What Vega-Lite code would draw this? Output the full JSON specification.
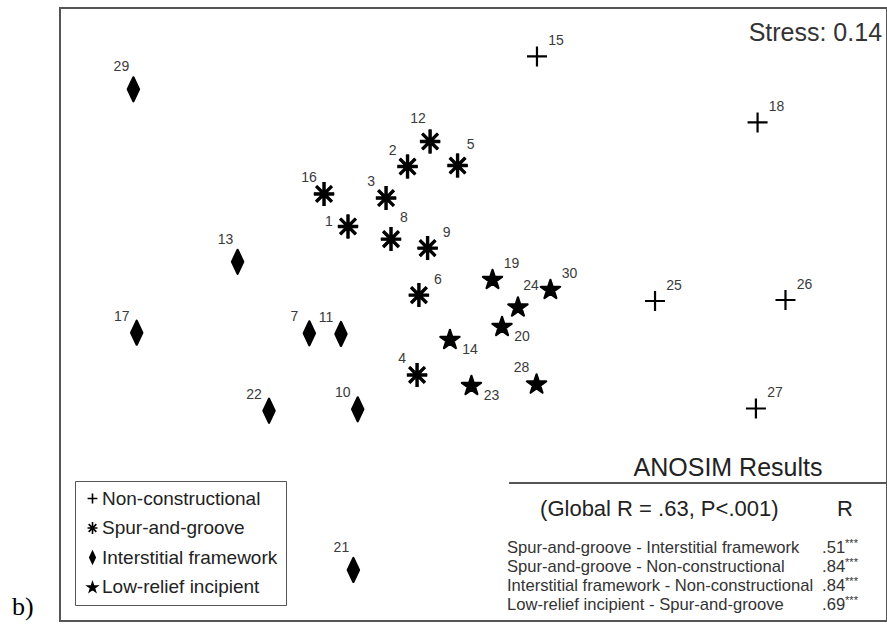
{
  "$schema": "https://vega.github.io/schema/vega-lite/v6.json",
  "width": 827,
  "height": 613,
  "autosize": {"type": "none"},
  "padding": {"left": 60, "top": 8, "right": 0, "bottom": 5},
  "background": "white",
  "datasets": {
    "sites": [
      {"id": "15", "group": "Non-constructional", "x": 0.307, "y": 1.263, "pos": "ur"},
      {"id": "18", "group": "Non-constructional", "x": 1.374, "y": 0.940, "pos": "ur"},
      {"id": "25", "group": "Non-constructional", "x": 0.878, "y": 0.066, "pos": "ur"},
      {"id": "26", "group": "Non-constructional", "x": 1.509, "y": 0.071, "pos": "ur"},
      {"id": "27", "group": "Non-constructional", "x": 1.366, "y": -0.460, "pos": "ur"},
      {"id": "12", "group": "Spur-and-groove", "x": -0.210, "y": 0.847, "pos": "nw"},
      {"id": "2", "group": "Spur-and-groove", "x": -0.319, "y": 0.724, "pos": "ul"},
      {"id": "5", "group": "Spur-and-groove", "x": -0.077, "y": 0.729, "pos": "ne"},
      {"id": "16", "group": "Spur-and-groove", "x": -0.723, "y": 0.590, "pos": "ul"},
      {"id": "3", "group": "Spur-and-groove", "x": -0.423, "y": 0.570, "pos": "ul"},
      {"id": "1", "group": "Spur-and-groove", "x": -0.607, "y": 0.431, "pos": "w"},
      {"id": "8", "group": "Spur-and-groove", "x": -0.399, "y": 0.369, "pos": "ne"},
      {"id": "9", "group": "Spur-and-groove", "x": -0.222, "y": 0.325, "pos": "ur"},
      {"id": "6", "group": "Spur-and-groove", "x": -0.264, "y": 0.095, "pos": "ur"},
      {"id": "4", "group": "Spur-and-groove", "x": -0.273, "y": -0.296, "pos": "ul"},
      {"id": "29", "group": "Interstitial framework", "x": -1.645, "y": 1.102, "pos": "nw"},
      {"id": "13", "group": "Interstitial framework", "x": -1.141, "y": 0.258, "pos": "nw"},
      {"id": "17", "group": "Interstitial framework", "x": -1.629, "y": -0.089, "pos": "ul"},
      {"id": "7", "group": "Interstitial framework", "x": -0.794, "y": -0.092, "pos": "ul"},
      {"id": "11", "group": "Interstitial framework", "x": -0.641, "y": -0.095, "pos": "ul"},
      {"id": "22", "group": "Interstitial framework", "x": -0.989, "y": -0.471, "pos": "ul"},
      {"id": "10", "group": "Interstitial framework", "x": -0.560, "y": -0.464, "pos": "ul"},
      {"id": "21", "group": "Interstitial framework", "x": -0.581, "y": -1.250, "pos": "nw"},
      {"id": "19", "group": "Low-relief incipient", "x": 0.092, "y": 0.174, "pos": "ur"},
      {"id": "30", "group": "Low-relief incipient", "x": 0.372, "y": 0.125, "pos": "ur"},
      {"id": "24", "group": "Low-relief incipient", "x": 0.215, "y": 0.039, "pos": "ne"},
      {"id": "20", "group": "Low-relief incipient", "x": 0.138, "y": -0.056, "pos": "lr"},
      {"id": "14", "group": "Low-relief incipient", "x": -0.114, "y": -0.120, "pos": "lr"},
      {"id": "23", "group": "Low-relief incipient", "x": -0.010, "y": -0.345, "pos": "lr"},
      {"id": "28", "group": "Low-relief incipient", "x": 0.305, "y": -0.338, "pos": "ul"}
    ],
    "anosim": [
      {"row": 1, "pair": "Spur-and-groove - Interstitial framework", "r": ".51", "sig": "***"},
      {"row": 2, "pair": "Spur-and-groove - Non-constructional", "r": ".84", "sig": "***"},
      {"row": 3, "pair": "Interstitial framework - Non-constructional", "r": ".84", "sig": "***"},
      {"row": 4, "pair": "Low-relief incipient - Spur-and-groove", "r": ".69", "sig": "***"}
    ]
  },
  "layer": [
    {
      "data": {"name": "sites"},
      "layer": [
        {
          "mark": {"type": "point", "filled": true, "strokeWidth": 2.2, "strokeJoin": "round", "opacity": 1, "size": 600},
          "encoding": {
            "x": {"field": "x", "type": "quantitative", "scale": {"domain": [-2, 2], "nice": false, "zero": false}, "axis": null},
            "y": {"field": "y", "type": "quantitative", "scale": {"domain": [-1.5, 1.5], "nice": false, "zero": false}, "axis": null},
            "fill": {
              "field": "group",
              "type": "nominal",
              "scale": {
                "domain": ["Non-constructional", "Spur-and-groove", "Interstitial framework", "Low-relief incipient"],
                "range": ["#000", "#000", "#000", "#000"]
              },
              "legend": {
                "orient": "none", "legendX": 15, "legendY": 473, "title": null, "direction": "vertical",
                "strokeColor": "#555", "padding": 8, "symbolSize": 144, "symbolStrokeWidth": 1.6, "symbolOpacity": 1,
                "labelFont": "Liberation Sans", "labelFontSize": 19, "labelColor": "#222", "labelOffset": 0,
                "labelLimit": 400, "labelExpr": "datum.label + '   '", "rowPadding": 9.5
              }
            },
            "stroke": {
              "field": "group",
              "type": "nominal",
              "scale": {
                "domain": ["Non-constructional", "Spur-and-groove", "Interstitial framework", "Low-relief incipient"],
                "range": ["#000", "#000", "#000", "#000"]
              },
              "legend": {
                "orient": "none", "legendX": 15, "legendY": 473, "title": null, "direction": "vertical",
                "strokeColor": "#555", "padding": 8, "symbolSize": 144, "symbolStrokeWidth": 1.6, "symbolOpacity": 1,
                "labelFont": "Liberation Sans", "labelFontSize": 19, "labelColor": "#222", "labelOffset": 0,
                "labelLimit": 400, "labelExpr": "datum.label + '   '", "rowPadding": 9.5
              }
            },
            "shape": {
              "field": "group",
              "type": "nominal",
              "scale": {
                "domain": ["Non-constructional", "Spur-and-groove", "Interstitial framework", "Low-relief incipient"],
                "range": [
                  "M-0.816,0H0.816M0,-0.816V0.816",
                  "M0,-0.98V0.98M-0.83,0H0.83M-0.64,-0.64L0.64,0.64M-0.64,0.64L0.64,-0.64",
                  "M0,-0.98L0.46,0L0,0.98L-0.46,0Z",
                  "M0,-0.747L0.186,-0.176L0.785,-0.176L0.3,0.177L0.486,0.748L0,0.395L-0.486,0.748L-0.3,0.177L-0.785,-0.176L-0.186,-0.176Z"
                ]
              },
              "legend": {
                "orient": "none", "legendX": 15, "legendY": 473, "title": null, "direction": "vertical",
                "strokeColor": "#555", "padding": 8, "symbolSize": 144, "symbolStrokeWidth": 1.6, "symbolOpacity": 1,
                "labelFont": "Liberation Sans", "labelFontSize": 19, "labelColor": "#222", "labelOffset": 0,
                "labelLimit": 400, "labelExpr": "datum.label + '   '", "rowPadding": 9.5
              }
            }
          }
        },
        {
          "transform": [{"filter": "datum.group === 'Spur-and-groove'"}],
          "mark": {
            "type": "point", "filled": false, "stroke": "#000", "strokeWidth": 3.4, "opacity": 1, "size": 600,
            "shape": "M0,-0.98V0.98M-0.83,0H0.83M-0.64,-0.64L0.64,0.64M-0.64,0.64L0.64,-0.64"
          },
          "encoding": {
            "x": {"field": "x", "type": "quantitative", "scale": {"domain": [-2, 2], "nice": false, "zero": false}, "axis": null},
            "y": {"field": "y", "type": "quantitative", "scale": {"domain": [-1.5, 1.5], "nice": false, "zero": false}, "axis": null}
          }
        },
        {
          "transform": [{"filter": "datum.pos === 'ul'"}],
          "mark": {"type": "text", "dx": -15, "dy": -16, "font": "Liberation Sans", "fontSize": 14, "fill": "#3a3a3a"},
          "encoding": {
            "x": {"field": "x", "type": "quantitative", "scale": {"domain": [-2, 2], "nice": false, "zero": false}, "axis": null},
            "y": {"field": "y", "type": "quantitative", "scale": {"domain": [-1.5, 1.5], "nice": false, "zero": false}, "axis": null},
            "text": {"field": "id"}
          }
        },
        {
          "transform": [{"filter": "datum.pos === 'nw'"}],
          "mark": {"type": "text", "dx": -12, "dy": -22, "font": "Liberation Sans", "fontSize": 14, "fill": "#3a3a3a"},
          "encoding": {
            "x": {"field": "x", "type": "quantitative", "scale": {"domain": [-2, 2], "nice": false, "zero": false}, "axis": null},
            "y": {"field": "y", "type": "quantitative", "scale": {"domain": [-1.5, 1.5], "nice": false, "zero": false}, "axis": null},
            "text": {"field": "id"}
          }
        },
        {
          "transform": [{"filter": "datum.pos === 'ur'"}],
          "mark": {"type": "text", "dx": 19, "dy": -15, "font": "Liberation Sans", "fontSize": 14, "fill": "#3a3a3a"},
          "encoding": {
            "x": {"field": "x", "type": "quantitative", "scale": {"domain": [-2, 2], "nice": false, "zero": false}, "axis": null},
            "y": {"field": "y", "type": "quantitative", "scale": {"domain": [-1.5, 1.5], "nice": false, "zero": false}, "axis": null},
            "text": {"field": "id"}
          }
        },
        {
          "transform": [{"filter": "datum.pos === 'ne'"}],
          "mark": {"type": "text", "dx": 13, "dy": -21, "font": "Liberation Sans", "fontSize": 14, "fill": "#3a3a3a"},
          "encoding": {
            "x": {"field": "x", "type": "quantitative", "scale": {"domain": [-2, 2], "nice": false, "zero": false}, "axis": null},
            "y": {"field": "y", "type": "quantitative", "scale": {"domain": [-1.5, 1.5], "nice": false, "zero": false}, "axis": null},
            "text": {"field": "id"}
          }
        },
        {
          "transform": [{"filter": "datum.pos === 'lr'"}],
          "mark": {"type": "text", "dx": 20, "dy": 11, "font": "Liberation Sans", "fontSize": 14, "fill": "#3a3a3a"},
          "encoding": {
            "x": {"field": "x", "type": "quantitative", "scale": {"domain": [-2, 2], "nice": false, "zero": false}, "axis": null},
            "y": {"field": "y", "type": "quantitative", "scale": {"domain": [-1.5, 1.5], "nice": false, "zero": false}, "axis": null},
            "text": {"field": "id"}
          }
        },
        {
          "transform": [{"filter": "datum.pos === 'w'"}],
          "mark": {"type": "text", "dx": -19, "dy": -4, "font": "Liberation Sans", "fontSize": 14, "fill": "#3a3a3a"},
          "encoding": {
            "x": {"field": "x", "type": "quantitative", "scale": {"domain": [-2, 2], "nice": false, "zero": false}, "axis": null},
            "y": {"field": "y", "type": "quantitative", "scale": {"domain": [-1.5, 1.5], "nice": false, "zero": false}, "axis": null},
            "text": {"field": "id"}
          }
        },
        {
          "data": {"values": [{"label": "Stress: 0.14"}]},
          "mark": {"type": "text", "align": "right", "baseline": "middle", "font": "Liberation Sans", "fontSize": 25, "fill": "#333"},
          "encoding": {
            "x": {"datum": 1.976, "type": "quantitative", "scale": {"domain": [-2, 2], "nice": false, "zero": false}, "axis": null},
            "y": {"datum": 1.378, "type": "quantitative", "scale": {"domain": [-1.5, 1.5], "nice": false, "zero": false}, "axis": null},
            "text": {"field": "label"}
          }
        },
        {
          "data": {"values": [{"label": "b)"}]},
          "mark": {"type": "text", "align": "left", "baseline": "alphabetic", "font": "Liberation Serif", "fontSize": 26, "fill": "#000"},
          "encoding": {
            "x": {"datum": -2.232, "type": "quantitative", "scale": {"domain": [-2, 2], "nice": false, "zero": false}, "axis": null},
            "y": {"datum": -1.472, "type": "quantitative", "scale": {"domain": [-1.5, 1.5], "nice": false, "zero": false}, "axis": null},
            "text": {"field": "label"}
          }
        },
        {
          "data": {"values": [{"label": "ANOSIM Results"}]},
          "mark": {"type": "text", "align": "center", "baseline": "middle", "font": "Liberation Sans", "fontSize": 25, "fill": "#222"},
          "encoding": {
            "x": {"datum": 1.231, "type": "quantitative", "scale": {"domain": [-2, 2], "nice": false, "zero": false}, "axis": null},
            "y": {"datum": -0.751, "type": "quantitative", "scale": {"domain": [-1.5, 1.5], "nice": false, "zero": false}, "axis": null},
            "text": {"field": "label"}
          }
        },
        {
          "data": {"values": [{}]},
          "mark": {"type": "rule", "stroke": "#555", "strokeWidth": 2},
          "encoding": {
            "x": {"datum": 0.172, "type": "quantitative", "scale": {"domain": [-2, 2], "nice": false, "zero": false}, "axis": null},
            "x2": {"datum": 2.0},
            "y": {"datum": -0.825, "type": "quantitative", "scale": {"domain": [-1.5, 1.5], "nice": false, "zero": false}, "axis": null}
          }
        },
        {
          "data": {"values": [{"label": "(Global R  = .63, P<.001)"}]},
          "mark": {"type": "text", "align": "left", "baseline": "middle", "font": "Liberation Sans", "fontSize": 22, "fill": "#222"},
          "encoding": {
            "x": {"datum": 0.322, "type": "quantitative", "scale": {"domain": [-2, 2], "nice": false, "zero": false}, "axis": null},
            "y": {"datum": -0.952, "type": "quantitative", "scale": {"domain": [-1.5, 1.5], "nice": false, "zero": false}, "axis": null},
            "text": {"field": "label"}
          }
        },
        {
          "data": {"values": [{"label": "R"}]},
          "mark": {"type": "text", "align": "center", "baseline": "middle", "font": "Liberation Sans", "fontSize": 22, "fill": "#222"},
          "encoding": {
            "x": {"datum": 1.797, "type": "quantitative", "scale": {"domain": [-2, 2], "nice": false, "zero": false}, "axis": null},
            "y": {"datum": -0.952, "type": "quantitative", "scale": {"domain": [-1.5, 1.5], "nice": false, "zero": false}, "axis": null},
            "text": {"field": "label"}
          }
        }
      ]
    },
    {
      "data": {"name": "anosim"},
      "encoding": {
        "y": {"field": "row", "type": "quantitative", "scale": {"domain": [-27.42, 4.842], "reverse": true, "nice": false, "zero": false}, "axis": null}
      },
      "layer": [
        {
          "mark": {"type": "text", "align": "left", "baseline": "middle", "font": "Liberation Sans", "fontSize": 16.6, "fill": "#333"},
          "encoding": {
            "x": {"datum": 0.162, "type": "quantitative", "scale": {"domain": [-2, 2], "nice": false, "zero": false}, "axis": null},
            "text": {"field": "pair"}
          }
        },
        {
          "mark": {"type": "text", "align": "left", "baseline": "middle", "font": "Liberation Sans", "fontSize": 16.6, "fill": "#333"},
          "encoding": {
            "x": {"datum": 1.686, "type": "quantitative", "scale": {"domain": [-2, 2], "nice": false, "zero": false}, "axis": null},
            "text": {"field": "r"}
          }
        },
        {
          "mark": {"type": "text", "align": "left", "baseline": "middle", "dx": 23, "dy": -4, "font": "Liberation Sans", "fontSize": 11, "fill": "#333"},
          "encoding": {
            "x": {"datum": 1.686, "type": "quantitative", "scale": {"domain": [-2, 2], "nice": false, "zero": false}, "axis": null},
            "text": {"field": "sig"}
          }
        }
      ]
    }
  ],
  "resolve": {"scale": {"y": "independent"}},
  "config": {
    "view": {"stroke": "#555", "strokeWidth": 2}
  }
}
